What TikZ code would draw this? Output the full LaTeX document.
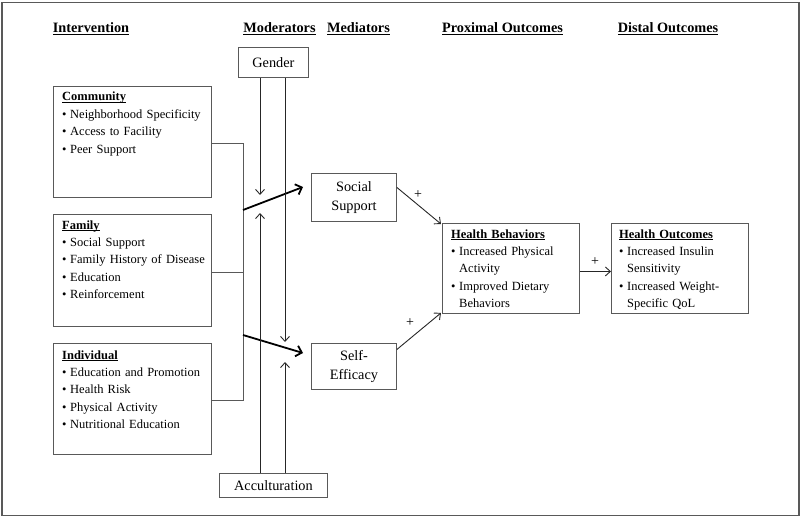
\documentclass[tikz,border=0pt]{standalone}
\usepackage{fontspec}
\setmainfont{Liberation Serif}
\usetikzlibrary{arrows.meta}
\newcommand{\bul}{\makebox[8pt][l]{\textbullet}}
\newcommand{\cnt}{\hspace*{8pt}}
\newcommand{\hul}[2][2pt]{\setbox0\hbox{#2}\rlap{\rule[-#1]{\wd0}{0.9pt}}\box0}
\begin{document}
\begin{tikzpicture}[x=1pt,y=-1pt,
  frame/.style={draw=black!65, line width=1.5pt},
  box/.style={draw=black!65, line width=0.9pt, inner sep=0pt, anchor=north west},
  listtxt/.style={anchor=base west, inner sep=0pt, text width=150pt, align=left,
     font=\fontsize{12.5}{17.4}\selectfont},
  medtxt/.style={inner sep=0pt, align=center, font=\fontsize{14.3}{19}\selectfont},
  heading/.style={anchor=base, inner sep=0pt, font=\fontsize{14.3}{17}\selectfont\bfseries},
  plus/.style={inner sep=0pt, font=\fontsize{14}{16}\selectfont},
  bus/.style={draw=black!65, line width=0.9pt},
  thinarr/.style={draw=black!85, line width=0.9pt, -{Straight Barb[length=5pt,width=9pt]}},
  boldarr/.style={draw=black, line width=1.8pt, -{Straight Barb[length=5.5pt,width=11pt]}}
]
\useasboundingbox (0,0) rectangle (800,516);
\node[frame, inner sep=0pt, anchor=north west, minimum width=797pt, minimum height=513pt] (frm) at (1,2) {};

% headings
\node[heading] (h1) at (91,33) {\hul{Intervention}};
\node[heading] (h2) at (279.5,33) {\hul{Moderators}};
\node[heading] (h3) at (358.5,33) {\hul{Mediators}};
\node[heading] (h4) at (502.5,33) {\hul{Proximal Outcomes}};
\node[heading] (h5) at (668,33) {\hul{Distal Outcomes}};

% intervention boxes
\node[box, minimum width=158pt, minimum height=111pt] (comm) at (53,86) {};
\node[listtxt] (commtxt) at (62,101) {\textbf{\hul[1.6pt]{Community}}\\
  \bul Neighborhood Specificity\\ \bul Access to Facility\\ \bul Peer Support};
\node[box, minimum width=158pt, minimum height=112pt] (fam) at (53,214) {};
\node[listtxt] (famtxt) at (62,229) {\textbf{\hul[1.6pt]{Family}}\\
  \bul Social Support\\ \bul Family History of Disease\\ \bul Education\\ \bul Reinforcement};
\node[box, minimum width=158pt, minimum height=111pt] (indiv) at (53,343) {};
\node[listtxt] (indivtxt) at (62,359) {\textbf{\hul[1.6pt]{Individual}}\\
  \bul Education and Promotion\\ \bul Health Risk\\ \bul Physical Activity\\ \bul Nutritional Education};

% moderators
\node[box, minimum width=70pt, minimum height=30pt] (gender) at (238,47) {};
\node[medtxt] (gendertxt) at (gender.center) {Gender};
\node[box, minimum width=108pt, minimum height=24pt] (acc) at (219,473) {};
\node[medtxt] (acctxt) at (acc.center) {Acculturation};

% mediators
\node[box, minimum width=85pt, minimum height=48pt] (ss) at (311,173) {};
\node[medtxt] (sstxt) at (ss.center) {Social\\Support};
\node[box, minimum width=85pt, minimum height=46pt] (se) at (311,343) {};
\node[medtxt] (setxt) at (se.center) {Self-\\Efficacy};

% outcomes
\node[box, minimum width=137pt, minimum height=90pt] (hb) at (442,223) {};
\node[listtxt, text width=130pt] (hbtxt) at (451,238) {\textbf{\hul[1.6pt]{Health Behaviors}}\\
  \bul Increased Physical\\ \cnt Activity\\ \bul Improved Dietary\\ \cnt Behaviors};
\node[box, minimum width=137pt, minimum height=90pt] (ho) at (611,223) {};
\node[listtxt, text width=130pt] (hotxt) at (619,238) {\textbf{\hul[1.6pt]{Health Outcomes}}\\
  \bul Increased Insulin\\ \cnt Sensitivity\\ \bul Increased Weight-\\ \cnt Specific QoL};

% coordinates
\coordinate (bTop) at (243,143);
\coordinate (bMid) at (243,272);
\coordinate (bBot) at (243,400);
\coordinate (s1) at (243,210);
\coordinate (s2) at (243,335);
\coordinate (t1) at (303,187);
\coordinate (t2) at (303,353);
\coordinate (gA) at (260,195);
\coordinate (gB) at (285,342);
\coordinate (aA) at (260,213);
\coordinate (aB) at (285,362);

% bus
\draw[bus] (comm.east |- bTop) -- (bTop) -- (bBot) -- (indiv.east |- bBot);
\draw[bus] (fam.east |- bMid) -- (bMid);

% bold arrows
\draw[boldarr] (s1) -- (t1);
\draw[boldarr] (s2) -- (t2);

% moderator arrows
\draw[thinarr] (gender.south -| gA) -- (gA);
\draw[thinarr] (gender.south -| gB) -- (gB);
\draw[thinarr] (acc.north -| aA) -- (aA);
\draw[thinarr] (acc.north -| aB) -- (aB);

% mediator to outcome arrows
\draw[thinarr] ([yshift=10pt]ss.east) -- ([xshift=-1pt,yshift=-1pt]hb.north west);
\draw[thinarr] ([yshift=17pt]se.east) -- ([xshift=-1pt,yshift=1pt]hb.south west);
\draw[thinarr] ([yshift=-3pt]hb.east) -- ([yshift=-3pt]ho.west);

% plus signs
\node[plus] (p1) at (418,195) {+};
\node[plus] (p2) at (410,323) {+};
\node[plus] (p3) at (595,262) {+};
\end{tikzpicture}
\end{document}
